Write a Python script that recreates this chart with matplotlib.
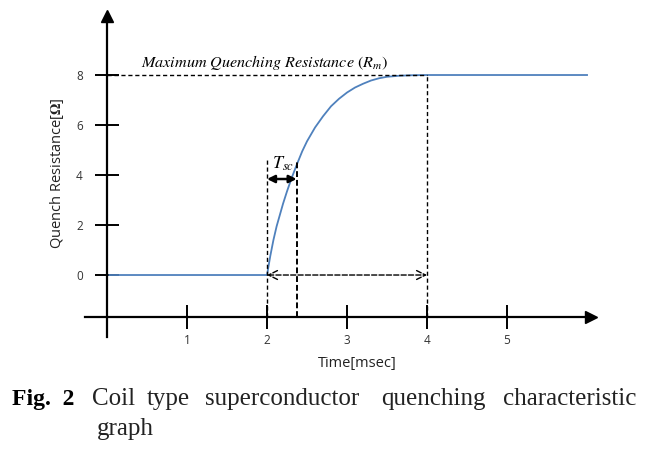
import matplotlib.pyplot as plt

plt.rcParams['mathtext.fontset'] = 'stix'

# Quench curve (time in msec, resistance in ohm)
time_ms = [0.03, 2.0, 2.04, 2.08, 2.12, 2.16, 2.2, 2.25, 2.31, 2.37, 2.44, 2.5,
           2.6, 2.7, 2.8, 2.9, 3.0, 3.1, 3.2, 3.3, 3.4, 3.5, 3.65, 3.8, 4.0,
           4.5, 5.0, 5.5, 6.0]
resistance = [0, 0, 0.75, 1.4, 1.95, 2.4, 2.85, 3.35, 3.9, 4.4, 4.95, 5.35,
              5.9, 6.35, 6.75, 7.05, 7.3, 7.5, 7.65, 7.78, 7.87, 7.93, 7.97,
              7.99, 8.0, 8.0, 8.0, 8.0, 8.0]

x_ticks = [1, 2, 3, 4, 5]
y_ticks = [0, 2, 4, 6, 8]

# markers on the chart
t_start = 2.0
t_sc_end = 2.37
t_full = 4.0
r_max = 8.0
axis_y = -1.68

fig = plt.figure(figsize=(6.58, 4.49), dpi=100)
ax = fig.add_axes([0.1286, 0.2483, 0.7818, 0.7294])
ax.set_xlim(-0.28, 6.15)
ax.set_ylim(-2.5, 10.6)

for s in ['top', 'right']:
    ax.spines[s].set_visible(False)
ax.spines['left'].set_position(('data', 0))
ax.spines['bottom'].set_position(('data', axis_y))
ax.spines['left'].set_bounds(-2.48, 10.3)
ax.spines['bottom'].set_bounds(-0.28, 6.0)
for s in ['left', 'bottom']:
    ax.spines[s].set_linewidth(1.6)
ax.plot([0], [10.35], marker='^', color='k', markersize=8, clip_on=False)
ax.plot([6.05], [axis_y], marker='>', color='k', markersize=8, clip_on=False)

ax.set_xticks(x_ticks)
ax.set_yticks(y_ticks)
ax.tick_params(direction='inout', length=17, width=1.4, labelsize=8.5,
               labelcolor='#333333', labelfontfamily='Open Sans')
ax.tick_params(axis='x', pad=4)
ax.tick_params(axis='y', pad=9)

# the quench curve
ax.plot(time_ms, resistance, color='#4f81bd', lw=1.3)

# dashed guide lines
dash = dict(color='k', lw=1.0, ls=(0, (3, 2)))
ax.plot([0, t_full], [r_max, r_max], **dash)
ax.plot([t_start, t_start], [axis_y, 4.6], **dash)
ax.plot([t_sc_end, t_sc_end], [axis_y, 4.6], color='k', lw=1.4, ls=(0, (3, 1.5)))
ax.plot([t_full, t_full], [axis_y, r_max], **dash)

# dashed double arrow at R = 0
ax.annotate('', xy=(t_full, 0), xytext=(t_start, 0),
            arrowprops=dict(arrowstyle='<->', lw=1.0, ls='--', color='k',
                            shrinkA=0, shrinkB=0, mutation_scale=16))

# T_sc arrow
ax.annotate('', xy=(t_sc_end, 3.84), xytext=(t_start, 3.84),
            arrowprops=dict(arrowstyle='<|-|>', lw=1.8, color='k',
                            shrinkA=0, shrinkB=0, mutation_scale=11))
ax.text(2.2, 4.44, r'$T_{sc}$', fontsize=13, ha='center', va='center')
ax.text(0.42, 8.5, r'$Maximum\ Quenching\ Resistance\ (R_m)$', fontsize=11.6,
        ha='left', va='center')

fig.text(0.086, 0.613, r'Quench Resistance[$\mathbf{\Omega}$]', rotation=90,
         ha='center', va='center', fontsize=10.5, family='Open Sans',
         color='#222222')
fig.text(0.543, 0.191, 'Time[msec]', ha='center', va='center', fontsize=10.5,
         family='Open Sans', color='#222222')

# caption, words spread out like justified text
cap_y = 1 - 405 / 449
fig.text(12 / 658, cap_y, 'Fig.  2', fontsize=17, fontweight='bold',
         family='Liberation Serif', ha='left', va='baseline')
words = ['Coil', 'type', 'superconductor', 'quenching', 'characteristic']
word_x = [92, 147, 205, 381, 503]
for w, px in zip(words, word_x):
    fig.text(px / 658, cap_y, w, fontsize=18, family='Liberation Serif',
             ha='left', va='baseline', color='#222222')
fig.text(97 / 658, 1 - 435 / 449, 'graph', fontsize=18,
         family='Liberation Serif', ha='left', va='baseline', color='#222222')

fig.savefig('out.png', dpi=100)
